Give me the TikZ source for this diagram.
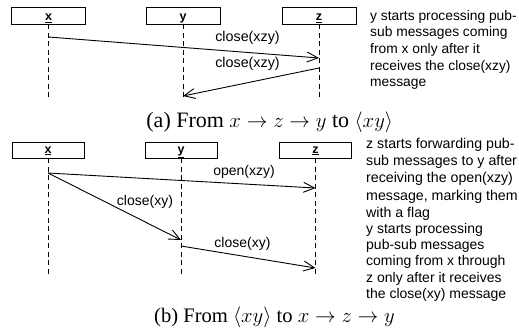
\documentclass[tikz,border=0pt]{standalone}
\usepackage{fontspec}
\setmainfont{Liberation Serif}
\newfontfamily\helv{Liberation Sans}
\usetikzlibrary{arrows.meta}
\begin{document}
\begin{tikzpicture}[x=1pt,y=-1pt,
  obj/.style={draw, line width=0.9pt, minimum width=74pt, minimum height=17pt, inner sep=0pt,
    text height=12pt, text depth=2pt, font=\helv\bfseries\fontsize{12.5}{12.5}\selectfont},
  objb/.style={obj, minimum width=72pt, minimum height=16pt, text height=10pt, text depth=4pt},
  life/.style={line width=0.9pt, dash pattern=on 5pt off 3.5pt},
  msg/.style={line width=0.9pt, -{Straight Barb[length=11pt,width=10pt,line width=0.9pt]}},
  lbla/.style={font=\helv\fontsize{14.3}{16}\selectfont, inner sep=0pt},
  lbl/.style={font=\helv\fontsize{14}{16}\selectfont, inner sep=0pt},
  notea/.style={font=\helv\fontsize{13.8}{16.6}\selectfont, align=left, inner sep=0pt, anchor=north west},
  noteb/.style={font=\helv\fontsize{14.2}{17.2}\selectfont, align=left, inner sep=0pt, anchor=north west},
  notec/.style={font=\helv\fontsize{14}{16.3}\selectfont, align=left, inner sep=0pt, anchor=north west},
  captexta/.style={font=\fontsize{22}{24}\selectfont, inner sep=0pt},
  captextb/.style={font=\fontsize{20.6}{23}\selectfont, inner sep=0pt}]
\useasboundingbox (0,0) rectangle (519,327);

% ---------- panel (a)
\node[obj] (xa) at (48.5,15.5) {\underline{x}};
\node[obj] (ya) at (183,15.5) {\underline{y}};
\node[obj] (za) at (319,15.5) {\underline{z}};
\coordinate (xaend) at (48.5,99);
\coordinate (yaend) at (183,99);
\coordinate (zaend) at (319,99);
\draw[life] (xa.south) -- (xaend);
\draw[life] (ya.south) -- (yaend);
\draw[life] (za.south) -- (zaend);

\coordinate (a1s) at (48.5,37);
\coordinate (a1e) at (319,58);
\coordinate (a2s) at (319,68);
\coordinate (a2e) at (183,96);
\draw[msg] (a1s) -- (a1e);
\draw[msg] (a2s) -- (a2e);
\node[lbla] (a1l) at (247.5,38) {close(xzy)};
\node[lbla] (a2l) at (247.5,64) {close(xzy)};

\node[notea] (na) at (370,10) {y starts processing pub-\\sub messages coming\\from x only after it\\receives the close(xzy)\\message};

\node[captexta] (capa) at (269.7,122) {(a) From $x\rightarrow z\rightarrow y$ to $\langle xy\rangle$};

% ---------- panel (b)
\node[objb] (xb) at (48,150) {\underline{x}};
\node[objb] (yb) at (181,150) {\underline{y}};
\node[objb] (zb) at (315.5,150) {\underline{z}};
\coordinate (xbend) at (48,276);
\coordinate (ybend) at (181,276);
\coordinate (zbend) at (315.5,276);
\draw[life] (xb.south) -- (xbend);
\draw[life] (yb.south) -- (ybend);
\draw[life] (zb.south) -- (zbend);

\coordinate (b1s) at (48,173);
\coordinate (b1e) at (315.5,188);
\coordinate (b2e) at (181,240);
\coordinate (b3s) at (181,246);
\coordinate (b3e) at (315.5,268);
\draw[msg] (b1s) -- (b1e);
\draw[msg] (b1s) -- (b2e);
\draw[msg] (b3s) -- (b3e);
\node[lbl] (b1l) at (244,172) {open(xzy)};
\node[lbl] (b2l) at (145,202) {close(xy)};
\node[lbl] (b3l) at (242.5,244) {close(xy)};

\node[noteb] (nb1) at (366,138) {z starts forwarding pub-\\sub messages to y after\\receiving the open(xzy)\\message, marking them\\with a flag};
\node[notec] (nb2) at (366,223) {y starts processing\\pub-sub messages\\coming from x through\\z only after it receives\\the close(xy) message};

\node[captextb] (capb) at (274.5,317) {(b) From $\langle xy\rangle$ to $x\rightarrow z\rightarrow y$};
\end{tikzpicture}
\end{document}
